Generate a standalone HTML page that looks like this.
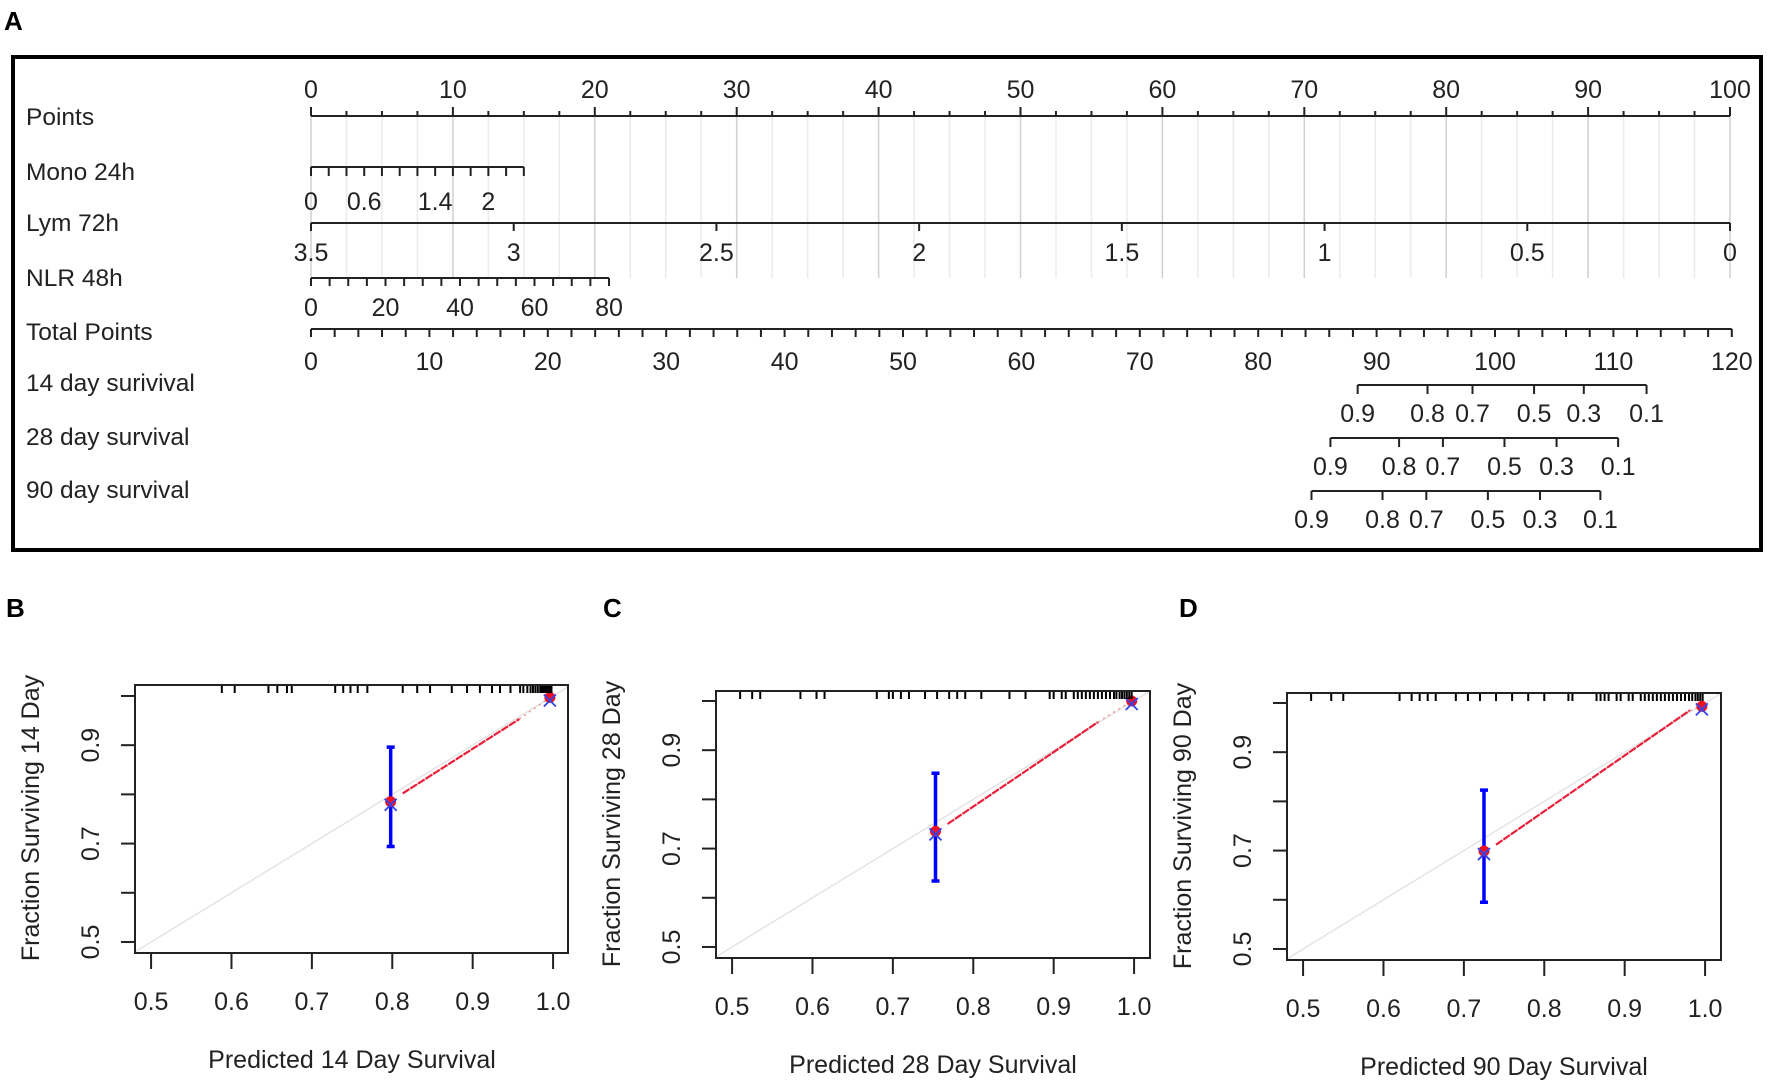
<!DOCTYPE html>
<html><head><meta charset="utf-8">
<style>
html,body{margin:0;padding:0;background:#fff;}
svg{display:block;font-family:"Liberation Sans",Arial,sans-serif;}
</style></head>
<body>
<svg id="fig" width="1772" height="1091" viewBox="0 0 1772 1091" xmlns="http://www.w3.org/2000/svg">
<text x="4" y="30" font-size="26" font-weight="bold">A</text>
<rect x="13" y="57" width="1748" height="493" fill="none" stroke="#000" stroke-width="4"/>
<g id="nomo"></g>
<text x="6" y="617" font-size="26" font-weight="bold">B</text>
<text x="603" y="617" font-size="26" font-weight="bold">C</text>
<text x="1179" y="617" font-size="26" font-weight="bold">D</text>
<g id="cal"></g>
</svg>
<script>
// ---------- Nomogram data ----------
const rowLabels = ["Points","Mono 24h","Lym 72h","NLR 48h","Total Points","14 day surivival","28 day survival","90 day survival"];
const pointsTicks = [0,10,20,30,40,50,60,70,80,90,100];
const monoTickValues = [0,0.2,0.4,0.6,0.8,1.0,1.2,1.4,1.6,1.8,2.0,2.2,2.4];
const monoLabels = [0,0.6,1.4,2];
const monoMaxValue = 2.4, monoMaxPoints = 15;
const lymValues = [3.5,3,2.5,2,1.5,1,0.5,0];
const lymMaxValue = 3.5;
const nlrTickValues = [0,5,10,15,20,25,30,35,40,45,50,55,60,65,70,75,80];
const nlrLabels = [0,20,40,60,80];
const nlrMaxPoints = 21.0;
const totalLabels = [0,10,20,30,40,50,60,70,80,90,100,110,120];
const survProbs = ["0.9","0.8","0.7","0.5","0.3","0.1"];
const surv14Total = [88.4,94.3,98.1,103.3,107.5,112.8];
const surv28Total = [86.1,91.9,95.6,100.8,105.2,110.4];
const surv90Total = [84.5,90.5,94.2,99.4,103.8,108.9];

// ---------- Calibration data ----------
const calTitles = ["14 Day","28 Day","90 Day"];
const calPred = [[0.798,0.996],[0.753,0.997],[0.725,0.996]];
const calObs = [[0.785,0.997],[0.735,1.000],[0.699,0.993]];
const calLow = [0.694,0.634,0.595];
const calHigh = [0.896,0.853,0.823];
const calLineStart = [[0.813,0.802],[0.768,0.750],[0.740,0.712]];
const calLineEnd = [[0.958,0.953],[0.955,0.957],[0.981,0.985]];
const rugB = [0.588,0.604,0.646,0.657,0.669,0.675,0.729,0.739,0.748,0.757,0.769,0.813,0.831,0.847,0.874,0.893,0.909,0.924,0.934,0.947,0.959,0.963,0.968,0.972,0.975,0.978,0.981,0.984,0.986,0.988,0.99,0.992,0.994,0.996,0.998];
const rugC = [0.51,0.525,0.535,0.585,0.605,0.615,0.68,0.695,0.7,0.71,0.72,0.74,0.755,0.77,0.78,0.79,0.81,0.845,0.865,0.895,0.9,0.91,0.915,0.925,0.93,0.935,0.94,0.945,0.95,0.955,0.96,0.965,0.97,0.975,0.978,0.982,0.985,0.988,0.991,0.994,0.997];
const rugD = [0.51,0.535,0.55,0.62,0.635,0.645,0.655,0.665,0.69,0.705,0.72,0.74,0.76,0.78,0.8,0.83,0.835,0.865,0.87,0.875,0.88,0.89,0.895,0.905,0.91,0.92,0.925,0.93,0.935,0.94,0.945,0.95,0.955,0.96,0.965,0.97,0.975,0.98,0.984,0.988,0.991,0.994,0.997];
const calXTicks = [0.5,0.6,0.7,0.8,0.9,1.0];
const calYTicks = [0.5,0.6,0.7,0.8,0.9,1.0];
const calYLabels = ["0.5","","0.7","","0.9",""];

const NS = "http://www.w3.org/2000/svg";
function el(parent, tag, attrs, text){
  const e = document.createElementNS(NS, tag);
  for (const k in attrs) e.setAttribute(k, attrs[k]);
  if (text !== undefined) e.textContent = text;
  parent.appendChild(e);
  return e;
}
// ---------- Nomogram ----------
const nomo = document.getElementById('nomo');
const pX = p => 311 + p * 14.19;
const tX = t => 311 + t * 11.84;
const rowY = [117,172,223,278,332,383,437,490];
rowLabels.forEach((l,i)=>{
  const t = el(nomo,'text',{x:26,y:rowY[i]+8,'font-size':24.5,fill:'#222'},l);
  
  
});
for (let p=0;p<=100;p+=2.5){
  const major = Math.abs(p%10)<1e-9;
  const g = el(nomo,'line',{x1:pX(p),x2:pX(p),y1:116,y2:278,stroke:major?'#d0d0d0':'#ebebeb','stroke-width':1.5});
  
  
}
function axisLine(x1,x2,y,name){
  const l = el(nomo,'line',{x1:x1,x2:x2,y1:y,y2:y,stroke:'#222','stroke-width':2});
  
  
}
function tick(x,y1,y2){
  const l = el(nomo,'line',{x1:x,x2:x,y1:y1,y2:y2,stroke:'#222','stroke-width':2});
  
  
}
function lab(x,y,s,name){
  const t = el(nomo,'text',{x:x,y:y,'font-size':25,'text-anchor':'middle',fill:'#222'},s);
  
  
}
axisLine(pX(0),pX(100),116,'points-axis');
for (let p=0;p<=100;p+=2.5) tick(pX(p),116,Math.abs(p%10)<1e-9?107:111);
pointsTicks.forEach(p=>lab(pX(p),98,String(p),'points-tick-label'));
const monoPts = v => v/monoMaxValue*monoMaxPoints;
axisLine(pX(0),pX(monoPts(monoMaxValue)),167,'mono-axis');
monoTickValues.forEach(v=>tick(pX(monoPts(v)),167,176));
monoLabels.forEach(v=>lab(pX(monoPts(v)),210,String(v),'mono-tick-label'));
const lymPts = v => (lymMaxValue-v)/lymMaxValue*100;
axisLine(pX(0),pX(100),223,'lym-axis');
lymValues.forEach(v=>{tick(pX(lymPts(v)),223,231); lab(pX(lymPts(v)),261,String(v),'lym-tick-label');});
const nlrMax = nlrTickValues[nlrTickValues.length-1];
const nlrPts = v => v/nlrMax*nlrMaxPoints;
axisLine(pX(0),pX(nlrPts(nlrMax)),278,'nlr-axis');
nlrTickValues.forEach(v=>tick(pX(nlrPts(v)),278,286));
nlrLabels.forEach(v=>lab(pX(nlrPts(v)),316,String(v),'nlr-tick-label'));
axisLine(tX(0),tX(120),329,'total-points-axis');
for (let t=0;t<=120;t+=2) tick(tX(t),329,337);
totalLabels.forEach(t=>lab(tX(t),370,String(t),'total-tick-label'));
[[surv14Total,385,'surv14'],[surv28Total,438,'surv28'],[surv90Total,491,'surv90']].forEach(([arr,y,nm])=>{
  axisLine(tX(arr[0]),tX(arr[arr.length-1]),y,nm+'-axis');
  arr.forEach((t,i)=>{tick(tX(t),y,y+9); lab(tX(t),y+37,survProbs[i],nm+'-tick-label');});
});

// ---------- Calibration plots ----------
const cal = document.getElementById('cal');
const panels = [{left:135,top:685,w:433,h:268,rug:rugB},{left:716,top:691,w:434,h:267,rug:rugC},{left:1287,top:693,w:434,h:267,rug:rugD}];
panels.forEach((P,k)=>{
  const g = el(cal,'g',{});
  
  
  const bottom = P.top+P.h;
  const X = v => P.left + (v-0.48)*804;
  const Y = v => bottom - (v-0.4776)*492;
  const cp = 'clip'+k;
  const cpe = el(g,'clipPath',{id:cp});
  el(cpe,'rect',{x:P.left,y:P.top,width:P.w,height:P.h});
  const ideal = el(g,'line',{x1:X(0.48),y1:Y(0.48),x2:X(1.02),y2:Y(1.02),stroke:'#e4e4e4','stroke-width':1.5,'clip-path':'url(#'+cp+')'});
  
  
  const rl = el(g,'line',{x1:X(calLineStart[k][0]),y1:Y(calLineStart[k][1]),x2:X(calLineEnd[k][0]),y2:Y(calLineEnd[k][1]),stroke:'#e8203a','stroke-width':2.2,'stroke-dasharray':'8 1'});
  
  
  const gl = el(g,'line',{x1:X(calLineEnd[k][0]),y1:Y(calLineEnd[k][1]),x2:X(calPred[k][1]),y2:Y(calObs[k][1]),stroke:'#e99',"stroke-width":1.5,'stroke-dasharray':'2 4'});
  
  
  const ex = X(calPred[k][0]);
  const eb = el(g,'path',{d:`M${ex} ${Y(calLow[k])}V${Y(calHigh[k])}M${ex-4} ${Y(calLow[k])}H${ex+4}M${ex-4} ${Y(calHigh[k])}H${ex+4}`,stroke:'#0000ff','stroke-width':3.5,fill:'none'});
  
  
  calPred[k].forEach((p,i)=>{
    const cx = X(p), cy = Y(calObs[k][i]);
    const c = el(g,'circle',{cx:cx,cy:cy,r:5.5,fill:'#ee1122'});
    
    
    const xm = el(g,'path',{d:`M${cx-6} ${cy-3}L${cx+6} ${cy+9}M${cx+6} ${cy-3}L${cx-6} ${cy+9}`,stroke:'#3344ee','stroke-width':1.8});
    
    
  });
  P.rug.forEach(v=>{
    const r = el(g,'line',{x1:X(v),x2:X(v),y1:P.top,y2:P.top+8,stroke:'#000','stroke-width':2});
    
    
  });
  const bx = el(g,'rect',{x:P.left,y:P.top,width:P.w,height:P.h,fill:'none',stroke:'#222','stroke-width':2});
  
  
  calXTicks.forEach(v=>{
    const t = el(g,'line',{x1:X(v),x2:X(v),y1:bottom,y2:bottom+16,stroke:'#222','stroke-width':2});
    
    
    const tl = el(g,'text',{x:X(v),y:bottom+57,'font-size':25,'text-anchor':'middle',fill:'#222'},v.toFixed(1));
    
    
  });
  calYTicks.forEach((v,i)=>{
    const t = el(g,'line',{x1:P.left-14,x2:P.left,y1:Y(v),y2:Y(v),stroke:'#222','stroke-width':2});
    
    
    if (calYLabels[i]){
      const tl = el(g,'text',{x:0,y:0,'font-size':25,'text-anchor':'middle',fill:'#222',transform:`translate(${P.left-36},${Y(v)}) rotate(-90)`},calYLabels[i]);
      
      
    }
  });
  const xl = el(g,'text',{x:P.left+217,y:bottom+115,'font-size':25,'text-anchor':'middle',fill:'#222','xml:space':'preserve'},'Predicted  '+calTitles[k]+' Survival');
  
  
  const yl = el(g,'text',{x:0,y:0,'font-size':25,'text-anchor':'middle',fill:'#222',transform:`translate(${P.left-96},${P.top+133}) rotate(-90)`},'Fraction Surviving '+calTitles[k]);
  
  
});
</script>
</body></html>
